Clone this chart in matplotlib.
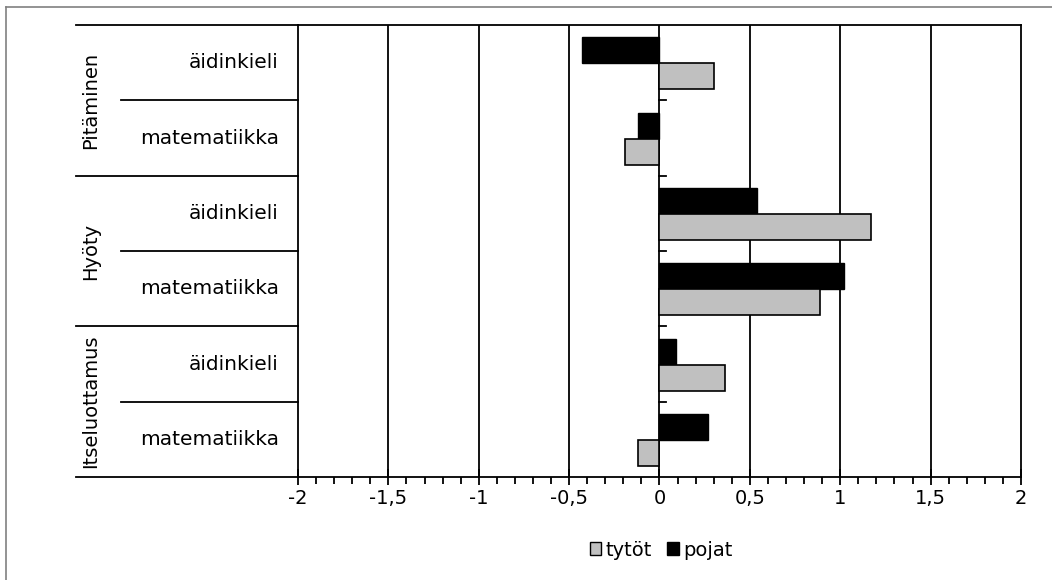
import matplotlib.pyplot as plt
from matplotlib.lines import Line2D
from matplotlib.patches import Patch
import numpy as np

# Data
groups = ['Pitäminen', 'Hyöty', 'Itseluottamus']
subjects = ['äidinkieli', 'matematiikka']
tytot = [0.30, -0.19, 1.17, 0.89, 0.36, -0.12]
pojat = [-0.43, -0.12, 0.54, 1.02, 0.09, 0.27]

W, H = 1052, 580
fig = plt.figure(figsize=(W / 100, H / 100), dpi=100)
plt.rcParams['font.family'] = ['DejaVu Sans']
fs = 14

x0, x1, ytop, ybot = 298, 1021, 25, 477
ax = fig.add_axes([x0 / W, 1 - ybot / H, (x1 - x0) / W, (ybot - ytop) / H])

n = len(tytot)
y = np.arange(n)
h = 0.346
ax.barh(y + 0.337, pojat, height=h, color='black', edgecolor='black', linewidth=1, zorder=3)
ax.barh(y + 0.683, tytot, height=h, color='#c0c0c0', edgecolor='black', linewidth=1.2, zorder=3)

ax.set_xlim(-2, 2)
ax.set_ylim(n, 0)

# pystyviivat
for gx in np.arange(-1.5, 2, 0.5):
    ax.axvline(gx, color='black', linewidth=1.3, zorder=1)

# pienet merkit nollaviivalla
for b in range(1, n):
    ax.plot([0, 0.035], [b, b], color='black', linewidth=1.3, zorder=4)

for s in ['top', 'right', 'left', 'bottom']:
    ax.spines[s].set_linewidth(1.3)

ax.set_xticks(np.arange(-2, 2.01, 0.5))
ax.set_xticklabels([f'{v:g}'.replace('.', ',') for v in np.arange(-2, 2.01, 0.5)], fontsize=fs)
ax.set_xticks(np.arange(-2, 2.01, 0.1), minor=True)
ax.tick_params(axis='x', which='major', direction='inout', length=12, width=1.3, pad=3)
ax.tick_params(axis='x', which='minor', direction='out', length=5, width=1.3)
ax.set_yticks([])

# luokat vasemmalla
tr = ax.get_yaxis_transform()
gx_left = (76 - x0) / (x1 - x0)
sx_left = (121 - x0) / (x1 - x0)
lab_x = (279 - x0) / (x1 - x0)
grp_x = (91 - x0) / (x1 - x0)
for g in range(len(groups) + 1):
    ax.plot([gx_left, 0], [2 * g, 2 * g], color='black', linewidth=1.3, transform=tr, clip_on=False)
for g in range(len(groups)):
    ax.plot([sx_left, 0], [2 * g + 1, 2 * g + 1], color='black', linewidth=1.3, transform=tr, clip_on=False)
    ax.text(grp_x, 2 * g + 1, groups[g], rotation=90, ha='center', va='center',
            fontsize=fs, transform=tr)
for i in range(n):
    ax.text(lab_x, i + 0.5, subjects[i % 2], ha='right', va='center', fontsize=fs + 0.5, transform=tr)

# selite
handles = [Patch(facecolor='#c0c0c0', edgecolor='black', label='tytöt'),
           Patch(facecolor='black', edgecolor='black', label='pojat')]
fig.legend(handles=handles, loc='center', bbox_to_anchor=(661 / W, 1 - 550 / H), ncol=2,
           frameon=False, fontsize=fs, handlelength=0.6, handleheight=0.6,
           handletextpad=0.2, columnspacing=0.8)

# ulkokehys (vasen ja yläreuna)
fig.add_artist(Line2D([6 / W, 6 / W], [0, 1 - 7 / H], color='#808080', linewidth=1.2))
fig.add_artist(Line2D([6 / W, 1], [1 - 7 / H, 1 - 7 / H], color='#808080', linewidth=1.2))

plt.savefig('out.png', dpi=100)
